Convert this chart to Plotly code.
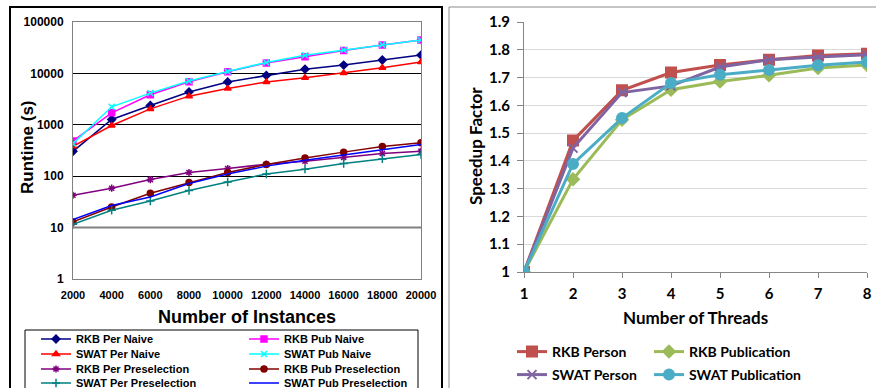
import plotly.graph_objects as go

W, H = 876, 388

# ---------------- data: left chart ----------------
instances = [2000, 4000, 6000, 8000, 10000, 12000, 14000, 16000, 18000, 20000]
instance_labels = [str(v) for v in instances]
rkb_per_naive = [305, 1270, 2370, 4350, 6800, 9150, 12100, 14500, 18200, 22700]
rkb_pub_naive = [485, 1710, 3840, 6900, 10800, 15900, 21100, 28000, 35700, 44600]
swat_per_naive = [382, 970, 2040, 3610, 5100, 6780, 8240, 10150, 12900, 16600]
swat_pub_naive = [430, 2240, 4140, 7100, 10900, 16300, 22600, 28500, 36000, 44600]
rkb_per_presel = [42.6, 58.4, 86, 118, 141, 171, 196, 231, 277, 307]
rkb_pub_presel = [12.9, 25.2, 46.7, 75.4, 118, 169, 227, 294, 379, 447]
swat_per_presel = [11.6, 21.7, 33, 52.6, 77, 110, 137, 177, 217, 265]
swat_pub_presel = [14.3, 27, 39.5, 72, 110, 157, 205, 257, 331, 415]
runtime_ticks = [1, 10, 100, 1000, 10000, 100000]

# ---------------- data: right chart ----------------
threads = [1, 2, 3, 4, 5, 6, 7, 8]
rkb_person = [1.0, 1.473, 1.654, 1.718, 1.745, 1.764, 1.779, 1.786]
rkb_publication = [1.0, 1.334, 1.548, 1.656, 1.686, 1.708, 1.734, 1.745]
swat_person = [1.0, 1.446, 1.646, 1.670, 1.738, 1.764, 1.774, 1.782]
swat_publication = [1.0, 1.389, 1.554, 1.680, 1.710, 1.727, 1.744, 1.756]

def px(x):
    return x / W

def py(y):
    return 1 - y / H

fig = go.Figure()

LF = dict(family="Liberation Sans, Arial", weight="bold")
RF = dict(family="Lato, Open Sans", weight="bold")

left_series = [
    ("RKB Per Naive", rkb_per_naive, "#000080", "diamond", "legend"),
    ("RKB Pub Naive", rkb_pub_naive, "#FF00FF", "square", "legend"),
    ("SWAT Per Naive", swat_per_naive, "#FF0000", "triangle-up", "legend2"),
    ("SWAT Pub Naive", swat_pub_naive, "#00FFFF", "x-thin-open", "legend2"),
    ("RKB Per Preselection", rkb_per_presel, "#800080", "asterisk-open", "legend3"),
    ("RKB Pub Preselection", rkb_pub_presel, "#800000", "circle", "legend3"),
    ("SWAT Per Preselection", swat_per_presel, "#008080", "cross-thin-open", "legend4"),
    ("SWAT Pub Preselection", swat_pub_presel, "#0000FF", None, "legend4"),
]
for name, vals, col, sym, lg in left_series:
    mk = dict(color=col, size=6, line=dict(color=col, width=1.5))
    if sym is None:
        mode = "lines"
    else:
        mode = "lines+markers"
        mk["symbol"] = sym
    fig.add_trace(go.Scatter(x=instances, y=vals, name=name, mode=mode,
                             line=dict(color=col, width=1.5), marker=mk,
                             xaxis="x", yaxis="y", legend=lg))

right_series = [
    ("RKB Person", rkb_person, "#C0504D", "square", 10, "legend5"),
    ("RKB Publication", rkb_publication, "#9BBB59", "diamond", 9, "legend6"),
    ("SWAT Person", swat_person, "#8064A2", "x-thin-open", 9, "legend7"),
    ("SWAT Publication", swat_publication, "#4BACC6", "circle", 10, "legend8"),
]
for name, vals, col, sym, sz, lg in right_series:
    fig.add_trace(go.Scatter(x=threads, y=vals, name=name, mode="lines+markers",
                             line=dict(color=col, width=3),
                             marker=dict(color=col, size=sz, symbol=sym,
                                         line=dict(color=col, width=2)),
                             xaxis="x2", yaxis="y2", legend=lg))

# panel borders
fig.add_shape(type="rect", xref="paper", yref="paper",
              x0=px(10), x1=px(442), y0=py(400), y1=py(7),
              line=dict(color="#000000", width=2), layer="below")
fig.add_shape(type="rect", xref="paper", yref="paper",
              x0=px(449), x1=px(890), y0=py(400), y1=py(7),
              line=dict(color="#8c8c8c", width=1), layer="below")
# left legend frame
fig.add_shape(type="rect", xref="paper", yref="paper",
              x0=px(25), x1=px(418), y0=py(398), y1=py(330),
              line=dict(color="#000000", width=1))
# gray line at 10 on left chart
fig.add_shape(type="line", xref="x domain", yref="y", x0=0, x1=1, y0=10, y1=10,
              line=dict(color="#808080", width=2))

legend_common = dict(orientation="h", xanchor="left", yanchor="middle",
                     bgcolor="rgba(0,0,0,0)", borderwidth=0,
                     entrywidthmode="pixels", tracegroupgap=0,
                     itemclick=False, itemdoubleclick=False)
left_rows = [339, 354, 369, 383]
lkw = {}
for i, r in enumerate(left_rows):
    key = "legend" if i == 0 else "legend%d" % (i + 1)
    lkw[key] = dict(legend_common, x=px(36), y=py(r), entrywidth=163,
                    font=dict(size=11, color="#000000", **LF))
right_pos = [(512, 352), (649, 352), (512, 375), (649, 375)]
for i, (lx, ly) in enumerate(right_pos):
    key = "legend%d" % (i + 5)
    lkw[key] = dict(orientation="h", xanchor="left", yanchor="middle",
                    bgcolor="rgba(0,0,0,0)", borderwidth=0,
                    itemclick=False, itemdoubleclick=False,
                    x=px(lx), y=py(ly),
                    font=dict(size=14, color="#000000", **RF))

fig.update_layout(
    width=W, height=H,
    margin=dict(l=0, r=0, t=0, b=0, autoexpand=False),
    paper_bgcolor="white", plot_bgcolor="white",
    showlegend=True,
    xaxis=dict(domain=[px(73), px(421)], range=[2000, 20000], tickvals=instances,
               ticktext=instance_labels, automargin=False, ticklabelstandoff=6,
               showgrid=False, showline=True, linecolor="#808080", linewidth=1,
               mirror=True, ticks="", zeroline=False,
               tickfont=dict(size=11, color="#000000", **LF), anchor="y"),
    yaxis=dict(domain=[py(279), py(22)], type="log", range=[0, 5], automargin=False,
               tickvals=runtime_ticks, ticktext=[str(v) for v in runtime_ticks],
               ticklabelstandoff=6,
               showgrid=True, gridcolor="#000000", gridwidth=1,
               showline=True, linecolor="#808080", linewidth=1, mirror=True,
               ticks="", tickfont=dict(size=12, color="#000000", **LF), anchor="x"),
    xaxis2=dict(domain=[px(524), px(867)], range=[1, 8], dtick=1, automargin=False,
                ticklabelstandoff=3,
                showgrid=False, showline=True, linecolor="#868686", linewidth=1,
                ticks="outside", ticklen=5, tickcolor="#868686", zeroline=False,
                tickfont=dict(size=15, color="#000000", **RF), anchor="y2"),
    yaxis2=dict(domain=[py(272), py(22)], range=[1, 1.9], dtick=0.1, automargin=False,
                ticklabelstandoff=4,
                showgrid=True, gridcolor="#d9d9d9", gridwidth=1,
                showline=True, linecolor="#868686", linewidth=1,
                ticks="outside", ticklen=6, tickcolor="#868686", zeroline=False,
                tickfont=dict(size=15, color="#000000", **RF), anchor="x2"),
    annotations=[
        dict(text="Runtime (s)", x=px(27), y=py(147), xref="paper", yref="paper",
             xanchor="center", yanchor="middle",
             textangle=-90, showarrow=False, font=dict(size=17, color="#000000", **LF)),
        dict(text="Number of Instances", x=px(247), y=py(317), xref="paper", yref="paper",
             xanchor="center", yanchor="middle",
             showarrow=False, font=dict(size=18, color="#000000", **LF)),
        dict(text="Speedup Factor", x=px(475), y=py(146), xref="paper", yref="paper",
             xanchor="center", yanchor="middle",
             textangle=-90, showarrow=False, font=dict(size=17, color="#000000", **RF)),
        dict(text="Number of Threads", x=px(695), y=py(317), xref="paper", yref="paper",
             xanchor="center", yanchor="middle",
             showarrow=False, font=dict(size=17, color="#000000", **RF)),
    ],
    **lkw,
)

fig.write_html("out.html", config={"displayModeBar": False},
               post_script="document.body.style.margin='0';document.body.style.overflow='hidden';")
